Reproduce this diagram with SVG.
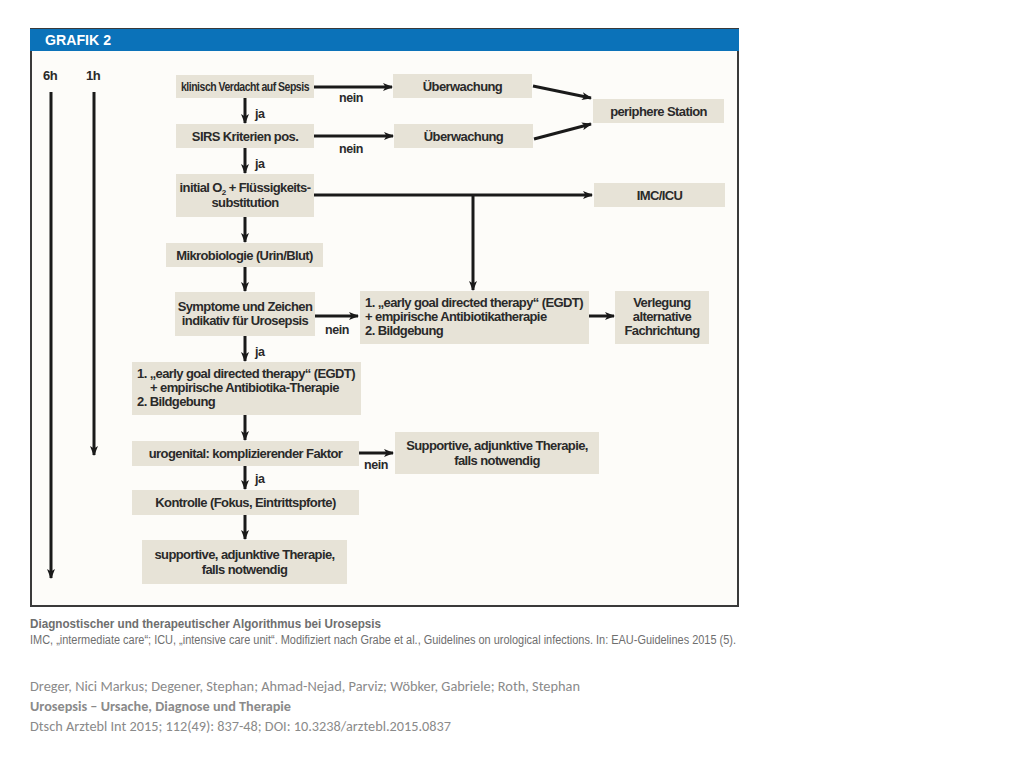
<svg xmlns="http://www.w3.org/2000/svg" width="1024" height="768" viewBox="0 0 1024 768">
<defs>
<marker id="ah" viewBox="0 0 10 8" refX="9" refY="4" markerWidth="10" markerHeight="8" markerUnits="userSpaceOnUse" orient="auto">
<path d="M0,0 L10,4 L0,8 L2.5,4 Z" fill="#1a1a1a"/>
</marker>
</defs>
<style>
.box{fill:#e7e3d7}
.t{font-family:"Liberation Sans",Arial,sans-serif;font-weight:bold;font-size:13px;letter-spacing:-0.6px;fill:#2a2a2a;text-anchor:middle}
.tl{font-family:"Liberation Sans",Arial,sans-serif;font-weight:bold;font-size:13px;letter-spacing:-0.6px;fill:#2a2a2a}
.lbl{font-family:"Liberation Sans",Arial,sans-serif;font-weight:bold;font-size:12.5px;letter-spacing:-0.4px;fill:#2a2a2a}
.ca{stroke:#1a1a1a;stroke-width:3;fill:none;marker-end:url(#ah)}
.cap{font-family:"Liberation Sans",Arial,sans-serif;fill:#6e6e6e}
.ft{font-family:"Carlito","Liberation Sans",Arial,sans-serif;font-size:14px;fill:#8a8a8a}
</style>
<rect x="0" y="0" width="1024" height="768" fill="#ffffff"/>
<g id="frame">
<rect x="31" y="29" width="707" height="577" fill="#fdfcf9" stroke="#3a3a3a" stroke-width="2"/>
<rect x="30" y="29" width="709" height="22" fill="#0b72b9"/>
<text x="45" y="45" font-family="Liberation Sans,Arial,sans-serif" font-weight="bold" font-size="14" fill="#ffffff" textLength="66" lengthAdjust="spacingAndGlyphs">GRAFIK 2</text>
</g>
<g id="timeline">
<text x="50" y="80" class="t">6h</text>
<text x="93" y="80" class="t">1h</text>
</g>
<g id="connectors">
<line x1="51" y1="92" x2="51" y2="578" class="ca"/>
<line x1="94" y1="92" x2="94" y2="455" class="ca"/>
<line x1="245" y1="98" x2="245" y2="123" class="ca"/>
<line x1="245" y1="148" x2="245" y2="173" class="ca"/>
<line x1="245" y1="217" x2="245" y2="242" class="ca"/>
<line x1="245" y1="267" x2="245" y2="291" class="ca"/>
<line x1="245" y1="336" x2="245" y2="361" class="ca"/>
<line x1="245" y1="415" x2="245" y2="440" class="ca"/>
<line x1="245" y1="466" x2="245" y2="489" class="ca"/>
<line x1="245" y1="515" x2="245" y2="539" class="ca"/>
<line x1="314" y1="87" x2="392" y2="87" class="ca"/>
<line x1="314" y1="136" x2="393" y2="136" class="ca"/>
<line x1="533" y1="86" x2="591" y2="98" class="ca"/>
<line x1="534" y1="139" x2="591" y2="124" class="ca"/>
<line x1="314" y1="195" x2="592" y2="195" class="ca"/>
<line x1="473" y1="195" x2="473" y2="290" class="ca"/>
<line x1="315" y1="316" x2="358" y2="316" class="ca"/>
<line x1="589" y1="316" x2="614" y2="316" class="ca"/>
<line x1="359" y1="453" x2="393" y2="453" class="ca"/>
<text x="255" y="118" class="lbl">ja</text>
<text x="255" y="168" class="lbl">ja</text>
<text x="255" y="356" class="lbl">ja</text>
<text x="255" y="483" class="lbl">ja</text>
<text x="339" y="102" class="lbl">nein</text>
<text x="339" y="153" class="lbl">nein</text>
<text x="325" y="334" class="lbl">nein</text>
<text x="364" y="469" class="lbl">nein</text>
</g>
<g id="n1"><rect x="176" y="75" width="138" height="23" class="box"/><text x="245" y="91" class="t" letter-spacing="0" textLength="128" lengthAdjust="spacingAndGlyphs">klinisch Verdacht auf Sepsis</text></g>
<g id="n2"><rect x="176" y="124" width="138" height="24" class="box"/><text x="245" y="141" class="t">SIRS Kriterien pos.</text></g>
<g id="n3"><rect x="176" y="174" width="138" height="43" class="box"/><text x="245" y="192" class="t">initial O<tspan font-size="8" dy="3">2</tspan><tspan dy="-3"> + Flüssigkeits-</tspan></text><text x="245" y="207" class="t">substitution</text></g>
<g id="n4"><rect x="166" y="243" width="157" height="24" class="box"/><text x="244.5" y="260" class="t">Mikrobiologie (Urin/Blut)</text></g>
<g id="n5"><rect x="175" y="292" width="140" height="44" class="box"/><text x="245" y="311" class="t">Symptome und Zeichen</text><text x="245" y="325" class="t">indikativ für Urosepsis</text></g>
<g id="n6"><rect x="132" y="362" width="229" height="53" class="box"/><text x="137" y="378" class="tl">1. „early goal directed therapy“ (EGDT)</text><text x="150" y="392" class="tl">+ empirische Antibiotika-Therapie</text><text x="137" y="406" class="tl">2. Bildgebung</text></g>
<g id="n7"><rect x="132" y="441" width="227" height="25" class="box"/><text x="245.5" y="458" class="t">urogenital: komplizierender Faktor</text></g>
<g id="n8"><rect x="132" y="490" width="227" height="25" class="box"/><text x="245.5" y="507" class="t">Kontrolle (Fokus, Eintrittspforte)</text></g>
<g id="n9"><rect x="142" y="540" width="205" height="44" class="box"/><text x="244.5" y="559" class="t">supportive, adjunktive Therapie,</text><text x="244.5" y="574" class="t">falls notwendig</text></g>
<g id="n10"><rect x="393" y="74" width="139" height="24" class="box"/><text x="462.5" y="91" class="t">Überwachung</text></g>
<g id="n11"><rect x="394" y="124" width="139" height="24" class="box"/><text x="463.5" y="141" class="t">Überwachung</text></g>
<g id="n12"><rect x="593" y="99" width="131" height="24" class="box"/><text x="658.5" y="116" class="t">periphere Station</text></g>
<g id="n13"><rect x="594" y="183" width="131" height="24" class="box"/><text x="659.5" y="200" class="t">IMC/ICU</text></g>
<g id="n14"><rect x="360" y="291" width="229" height="53" class="box"/><text x="365" y="307" class="tl">1. „early goal directed therapy“ (EGDT)</text><text x="365" y="321" class="tl">+ empirische Antibiotikatherapie</text><text x="365" y="335" class="tl">2. Bildgebung</text></g>
<g id="n15"><rect x="615" y="291" width="94" height="53" class="box"/><text x="662" y="307" class="t">Verlegung</text><text x="662" y="321" class="t">alternative</text><text x="662" y="335" class="t">Fachrichtung</text></g>
<g id="n16"><rect x="395" y="432" width="204" height="42" class="box"/><text x="497" y="450" class="t">Supportive, adjunktive Therapie,</text><text x="497" y="465" class="t">falls notwendig</text></g>
<g id="caption">
<text x="30" y="628" class="cap" font-weight="bold" font-size="13" textLength="351" lengthAdjust="spacingAndGlyphs">Diagnostischer und therapeutischer Algorithmus bei Urosepsis</text>
<text x="30" y="644" class="cap" font-size="12.5" textLength="706" lengthAdjust="spacingAndGlyphs">IMC, „intermediate care“; ICU, „intensive care unit“. Modifiziert nach Grabe et al., Guidelines on urological infections. In: EAU-Guidelines 2015 (5).</text>
</g>
<g id="footer">
<text x="30" y="691" class="ft" textLength="550" lengthAdjust="spacingAndGlyphs">Dreger, Nici Markus; Degener, Stephan; Ahmad-Nejad, Parviz; Wöbker, Gabriele; Roth, Stephan</text>
<text x="30" y="711" class="ft" font-weight="bold" textLength="261" lengthAdjust="spacingAndGlyphs">Urosepsis – Ursache, Diagnose und Therapie</text>
<text x="30" y="731" class="ft" textLength="421" lengthAdjust="spacingAndGlyphs">Dtsch Arztebl Int 2015; 112(49): 837-48; DOI: 10.3238/arztebl.2015.0837</text>
</g>
</svg>
